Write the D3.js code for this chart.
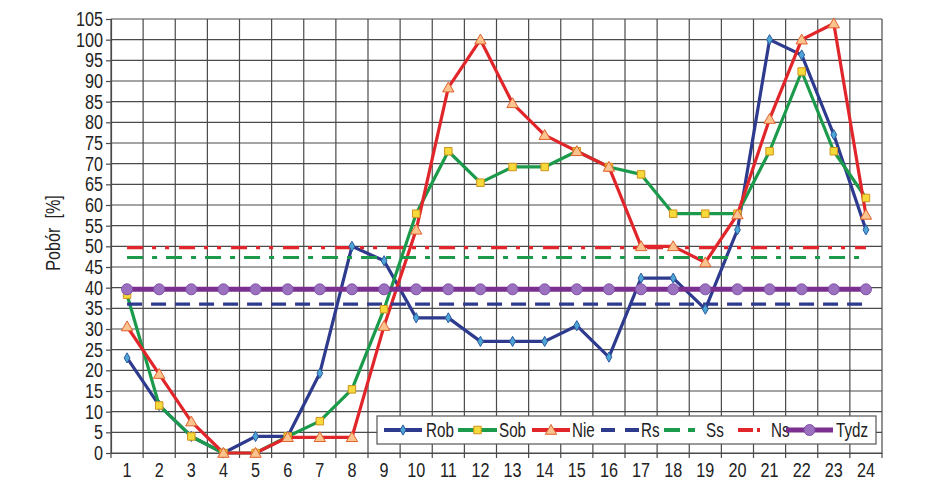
<!DOCTYPE html>
<html>
<head>
<meta charset="utf-8">
<script src="https://cdn.jsdelivr.net/npm/d3@7"></script>
<style>
  html, body { margin: 0; padding: 0; background: #fff; }
  svg { display: block; }
  text { font-family: "Liberation Sans", Arial, sans-serif; fill: #222; }
</style>
</head>
<body>
<svg id="chart" width="938" height="494"></svg>
<script>
// ---- data ----
const hours = [1,2,3,4,5,6,7,8,9,10,11,12,13,14,15,16,17,18,19,20,21,22,23,24];
const rob  = [23,11.5,4,0,4,4,19.3,50,46.5,32.7,32.7,27,27,27,30.8,23.2,42.3,42.3,34.8,54,100,96.3,77,54];
const sob  = [38.3,11.5,4,0,0,4,7.7,15.4,34.8,57.9,73,65.4,69.2,69.2,73,69.2,67.4,57.9,57.9,57.9,73,92.3,73,61.7];
const nie  = [30.6,19.1,7.6,0,0,3.8,3.8,3.8,30.7,54,88.4,100,84.6,76.9,73,69.2,50,50,46.1,57.7,80.8,100,103.9,57.6];
const rsLevel = 36;
const ssLevel = 47.3;
const nsLevel = 49.7;
const tydzLevel = 39.6;
const yTicks = [0,5,10,15,20,25,30,35,40,45,50,55,60,65,70,75,80,85,90,95,100,105];
const yLabel = "Pobór  [%]";
const legendNames = ["Rob","Sob","Nie","Rs","Ss","Ns","Tydz"];

// ---- layout ----
const svg = d3.select("#chart");
const L = 111, R = 882, T = 19, B = 453;
const SX = 0.81; // horizontal condensing (narrow font look)
const FS = 20;

const x = d3.scaleBand().domain(hours).range([L, R]).padding(0);
const cx = d => x(d) + x.bandwidth() / 2;
const y = d3.scaleLinear().domain([0, 105]).range([B, T]);

const gridColor = "#4a4a4a";

// horizontal gridlines
svg.append("g").selectAll("line").data(yTicks).join("line")
  .attr("x1", L).attr("x2", R)
  .attr("y1", d => y(d)).attr("y2", d => y(d))
  .attr("stroke", gridColor).attr("stroke-width", 1.2);

// vertical gridlines at band boundaries
const bounds = hours.map(h => x(h)).concat([R]);
svg.append("g").selectAll("line").data(bounds).join("line")
  .attr("x1", d => d).attr("x2", d => d)
  .attr("y1", T).attr("y2", B + 5)
  .attr("stroke", gridColor).attr("stroke-width", 1.2);

// y axis
const yAxis = svg.append("g").attr("transform", `translate(${L},0)`)
  .call(d3.axisLeft(y).tickValues(yTicks).tickSize(5).tickPadding(4));
yAxis.select(".domain").attr("stroke", gridColor).attr("stroke-width", 1.2);
yAxis.selectAll(".tick line").attr("stroke", gridColor).attr("stroke-width", 1.2);
yAxis.selectAll(".tick text").attr("font-size", FS).attr("fill", "#222")
  .attr("font-family", "'Liberation Sans', Arial, sans-serif")
  .attr("x", 0).attr("transform", `translate(-8,0) scale(${SX},1)`);

// x axis labels
const xAxis = svg.append("g").attr("transform", `translate(0,${B})`)
  .call(d3.axisBottom(x).tickValues(hours).tickSize(0).tickPadding(10));
xAxis.select(".domain").attr("stroke", gridColor).attr("stroke-width", 1.2);
xAxis.selectAll(".tick text").attr("font-size", FS).attr("fill", "#222")
  .attr("font-family", "'Liberation Sans', Arial, sans-serif")
  .attr("transform", `scale(${SX},1)`);

// y label
svg.append("text")
  .attr("transform", `translate(60,233) rotate(-90) scale(${SX},1)`)
  .attr("text-anchor", "middle")
  .attr("font-size", FS)
  .style("white-space", "pre")
  .text(yLabel);

// ---- series ----
const styles = {
  Rob:  { color: "#2d3a8e", width: 3.2, marker: "diamond", data: rob },
  Sob:  { color: "#1c9a4c", width: 3.2, marker: "square", data: sob },
  Nie:  { color: "#e1262b", width: 3.2, marker: "triangle", data: nie },
  Rs:   { color: "#2d3a8e", width: 3.2, dash: "15 9", level: rsLevel },
  Ss:   { color: "#1c9a4c", width: 3.2, dash: "16 9 5 9", level: ssLevel },
  Ns:   { color: "#e1262b", width: 3.2, dash: "16 9 4 9 4 10", level: nsLevel },
  Tydz: { color: "#7b2f8f", width: 5, marker: "circle", level: tydzLevel }
};
const markerStyle = {
  diamond:  { fill: "#4ea6d6", stroke: "#2d5a9e", sym: d3.symbolDiamond, size: 30 },
  square:   { fill: "#f6d93a", stroke: "#d0931e", sym: d3.symbolSquare, size: 56 },
  triangle: { fill: "#fbc48e", stroke: "#e0602c", sym: d3.symbolTriangle, size: 56 },
  circle:   { fill: "#9a70bf", stroke: "#8050a8", sym: d3.symbolCircle, size: 95 }
};

const line = d3.line().x(d => cx(d.h)).y(d => y(d.v));
const seriesPts = name => {
  const s = styles[name];
  if (s.data) return hours.map((h, i) => ({ h, v: s.data[i] }));
  return hours.map(h => ({ h, v: s.level }));
};

const linesG = svg.append("g");
const markG = svg.append("g");
legendNames.forEach(name => {
  const s = styles[name];
  linesG.append("path")
    .attr("d", line(seriesPts(name)))
    .attr("fill", "none")
    .attr("stroke", s.color)
    .attr("stroke-width", s.width)
    .attr("stroke-linejoin", "round")
    .attr("stroke-dasharray", s.dash || null);
});
legendNames.forEach(name => {
  const s = styles[name];
  if (!s.marker) return;
  const m = markerStyle[s.marker];
  markG.append("g").selectAll("path").data(seriesPts(name)).join("path")
    .attr("transform", d => `translate(${cx(d.h)},${y(d.v) + (s.marker === "triangle" ? 1 : 0)})`)
    .attr("d", d3.symbol().type(m.sym).size(m.size))
    .attr("fill", m.fill).attr("stroke", m.stroke).attr("stroke-width", 1);
});

// ---- legend ----
const lgX0 = 377, lgX1 = 876, lgY0 = 416, lgY1 = 444;
svg.append("rect").attr("x", lgX0).attr("y", lgY0)
  .attr("width", lgX1 - lgX0).attr("height", lgY1 - lgY0)
  .attr("fill", "#fff").attr("stroke", "#555").attr("stroke-width", 1.2);
const lgY = (lgY0 + lgY1) / 2;
// legend item geometry: sample start, sample end, text start
const lgItems = {
  Rob:  [384, 422, 426, "none"],
  Sob:  [458, 497, 499, "none"],
  Nie:  [532, 570, 572, "none"],
  Rs:   [601, 639, 641, "14 10"],
  Ss:   [664, 695, 706, "16 8 7 20"],
  Ns:   [738, 760, 771, "15 4 3 20"],
  Tydz: [786, 833, 836, "none"]
};
const lg = svg.append("g");
legendNames.forEach(name => {
  const s = styles[name];
  const [a, b, tx, dash] = lgItems[name];
  lg.append("line").attr("x1", a).attr("x2", b).attr("y1", lgY).attr("y2", lgY)
    .attr("stroke", s.color).attr("stroke-width", name === "Tydz" ? 5 : 4)
    .attr("stroke-dasharray", dash === "none" ? null : dash);
  if (s.marker) {
    const m = markerStyle[s.marker];
    lg.append("path")
      .attr("transform", `translate(${(a + b) / 2},${lgY + (s.marker === "triangle" ? 1 : 0)})`)
      .attr("d", d3.symbol().type(m.sym).size(m.size))
      .attr("fill", m.fill).attr("stroke", m.stroke).attr("stroke-width", 1);
  }
  lg.append("text")
    .attr("transform", `translate(${tx},${lgY + 7}) scale(0.76,1)`)
    .attr("font-size", FS).text(name);
});
</script>
</body>
</html>
